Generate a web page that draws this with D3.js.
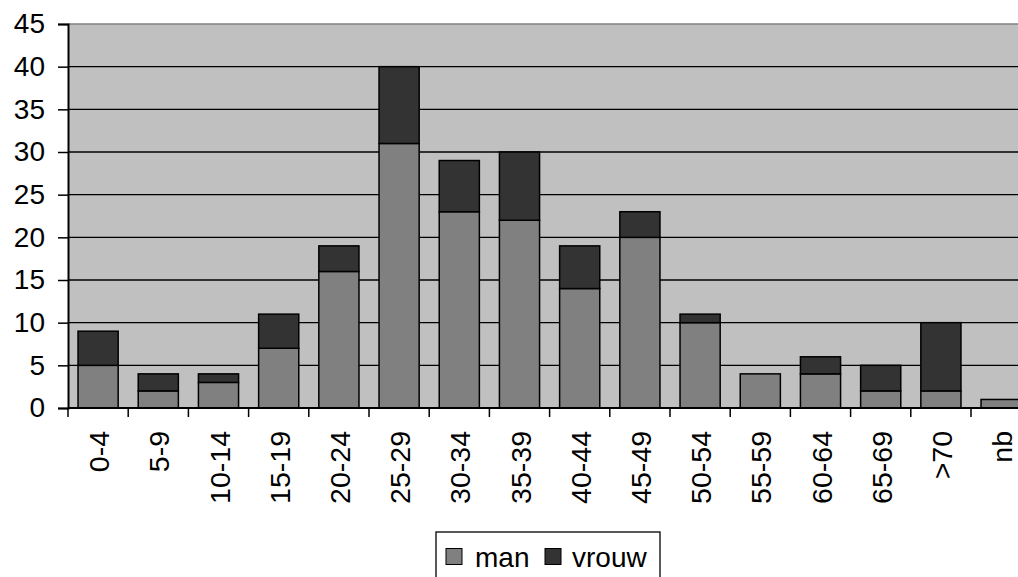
<!DOCTYPE html>
<html>
<head>
<meta charset="utf-8">
<script src="https://cdn.jsdelivr.net/npm/d3@7"></script>
<style>
  html, body { margin: 0; padding: 0; background: #fff; overflow: hidden; }
  svg { display: block; font-family: "Liberation Sans", Arial, sans-serif; }
</style>
</head>
<body>
<svg id="chart" width="1018" height="577"></svg>
<script>
// age groups and counts per group
const ageGroups = ["0-4", "5-9", "10-14", "15-19", "20-24", "25-29", "30-34", "35-39",
  "40-44", "45-49", "50-54", "55-59", "60-64", "65-69", ">70", "nb"];
const manValues   = [5, 2, 3, 7, 16, 31, 23, 22, 14, 20, 10, 4, 4, 2, 2, 1];
const vrouwValues = [4, 2, 1, 4, 3, 9, 6, 8, 5, 3, 1, 0, 2, 3, 8, 0];
const seriesNames = ["man", "vrouw"];
const yTicks = [0, 5, 10, 15, 20, 25, 30, 35, 40, 45];

const colors = { man: "#808080", vrouw: "#333333" };

const svg = d3.select("#chart");
const plotLeft = 68, plotTop = 24, plotBottom = 408;
const bandW = 60.2;
const plotRight = plotLeft + bandW * ageGroups.length;

const rows = ageGroups.map((g, i) => ({ group: g, man: manValues[i], vrouw: vrouwValues[i] }));
const stacked = d3.stack().keys(seriesNames)(rows);

const x = d3.scaleBand().domain(ageGroups).range([plotLeft, plotRight]).paddingInner(1 / 3).paddingOuter(1 / 6);
const y = d3.scaleLinear().domain([0, 45]).range([plotBottom, plotTop]);

// plot background
svg.append("rect")
  .attr("x", plotLeft).attr("y", plotTop)
  .attr("width", plotRight - plotLeft).attr("height", plotBottom - plotTop)
  .attr("fill", "#c0c0c0");

// gridlines
svg.append("g")
  .selectAll("line")
  .data(yTicks.filter(t => t > 0))
  .join("line")
  .attr("x1", plotLeft).attr("x2", plotRight)
  .attr("y1", d => y(d)).attr("y2", d => y(d))
  .attr("stroke", d => d === 45 ? "#808080" : "#000")
  .attr("stroke-width", 1.3);

// bars
svg.append("g")
  .selectAll("g")
  .data(stacked)
  .join("g")
  .attr("fill", d => colors[d.key])
  .selectAll("rect")
  .data(d => d.filter(p => p[1] > p[0]))
  .join("rect")
  .attr("x", d => x(d.data.group))
  .attr("y", d => y(d[1]))
  .attr("width", x.bandwidth())
  .attr("height", d => y(d[0]) - y(d[1]))
  .attr("stroke", "#000")
  .attr("stroke-width", 1.5);

// y axis
const yAxis = svg.append("g")
  .attr("transform", `translate(${plotLeft},0)`)
  .call(d3.axisLeft(y).tickValues(yTicks).tickSize(10).tickPadding(13));
yAxis.select(".domain").attr("stroke", "#000").attr("stroke-width", 2);
yAxis.selectAll(".tick line").attr("stroke", "#000").attr("stroke-width", 1.5);
yAxis.selectAll(".tick text").attr("font-size", 28).attr("fill", "#000")
  .attr("font-family", "Liberation Sans, Arial, sans-serif");

// x axis: ticks between categories
const xAxisG = svg.append("g").attr("transform", `translate(0,${plotBottom})`);
xAxisG.append("line")
  .attr("x1", plotLeft).attr("x2", plotRight)
  .attr("stroke", "#000").attr("stroke-width", 2);
xAxisG.selectAll(".sep")
  .data(d3.range(ageGroups.length + 1))
  .join("line")
  .attr("class", "sep")
  .attr("x1", i => plotLeft + i * bandW).attr("x2", i => plotLeft + i * bandW)
  .attr("y1", 0).attr("y2", 9)
  .attr("stroke", "#000").attr("stroke-width", 1.5);
xAxisG.selectAll(".lbl")
  .data(ageGroups)
  .join("text")
  .attr("class", "lbl")
  .attr("transform", d => `translate(${x(d) + x.bandwidth() / 2 + 11},23) rotate(-90)`)
  .attr("text-anchor", "end")
  .attr("font-size", 28.5)
  .attr("fill", "#000")
  .text(d => d);

// legend
const legend = svg.append("g");
legend.append("rect")
  .attr("x", 436).attr("y", 532).attr("width", 224).attr("height", 60)
  .attr("fill", "#fff").attr("stroke", "#000").attr("stroke-width", 1.3);
const legendItems = [{ key: "man", sx: 446, tx: 475 }, { key: "vrouw", sx: 545, tx: 572 }];
legendItems.forEach(it => {
  legend.append("rect")
    .attr("x", it.sx).attr("y", 548.5).attr("width", 16).attr("height", 16)
    .attr("fill", colors[it.key]).attr("stroke", "#000").attr("stroke-width", 1);
  legend.append("text")
    .attr("x", it.tx).attr("y", 567)
    .attr("font-size", 28).attr("fill", "#000")
    .text(it.key);
});
</script>
</body>
</html>
